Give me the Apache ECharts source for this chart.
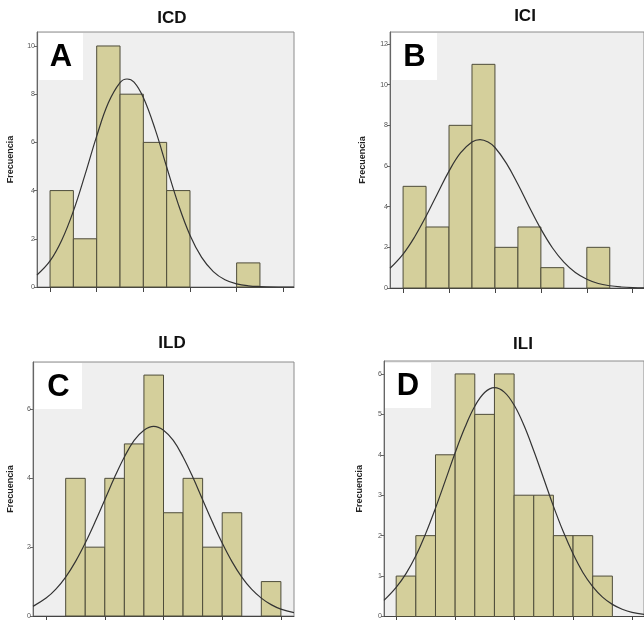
<!DOCTYPE html>
<html>
<head>
<meta charset="utf-8">
<script src="https://cdn.jsdelivr.net/npm/echarts@6/dist/echarts.min.js"></script>
<style>
  html, body { margin: 0; padding: 0; background: #fff; }
  #main { width: 644px; height: 620px; }
</style>
</head>
<body>
<div id="main"></div>
<script>
// frecuencias por intervalo (intervalo i va de i a i+1)
var icdCounts = [4, 2, 10, 8, 6, 4, 0, 0, 1];
var iciCounts = [5, 3, 8, 11, 2, 3, 1, 0, 2];
var ildCounts = [4, 2, 4, 5, 7, 3, 4, 2, 3, 0, 1];
var iliCounts = [1, 2, 4, 6, 5, 6, 3, 3, 2, 2, 1];

// curva normal [x, frecuencia]
var icdCurve = [[-0.56, 0.5], [0, 1.08], [0.5, 1.94], [1, 3.15], [1.5, 4.66], [2, 6.26], [2.5, 7.64],
  [3, 8.48], [3.3, 8.63], [3.6, 8.5], [4, 7.86], [4.5, 6.56], [5, 4.98], [5.5, 3.43], [6, 2.15], [6.5, 1.23],
  [7, 0.64], [7.5, 0.3], [8, 0.13], [8.5, 0.05], [9, 0.02], [10, 0.0], [10.46, 0.0]];
var iciCurve = [[-0.57, 0.97], [0, 1.67], [0.5, 2.51], [1, 3.53], [1.5, 4.65], [2, 5.75], [2.5, 6.64],
  [3, 7.18], [3.35, 7.3], [3.7, 7.18], [4, 6.91], [4.5, 6.13], [5, 5.1], [5.5, 3.97], [6, 2.9], [6.5, 1.98],
  [7, 1.27], [7.5, 0.76], [8, 0.43], [8.5, 0.22], [9, 0.11], [9.5, 0.05], [10, 0.02], [10.5, 0.01]];
var ildCurve = [[-1.67, 0.28], [-1, 0.52], [-0.5, 0.78], [0, 1.13], [0.5, 1.58], [1, 2.12], [1.5, 2.73],
  [2, 3.38], [2.5, 4.03], [3, 4.62], [3.5, 5.1], [4, 5.4], [4.5, 5.51], [5, 5.4], [5.5, 5.1], [6, 4.62],
  [6.5, 4.03], [7, 3.38], [7.5, 2.73], [8, 2.12], [8.5, 1.58], [9, 1.13], [9.5, 0.78], [10, 0.52],
  [10.5, 0.33], [11, 0.2], [11.67, 0.1]];
var iliCurve = [[-0.62, 0.4], [0, 0.72], [0.5, 1.06], [1, 1.5], [1.5, 2.05], [2, 2.68], [2.5, 3.36],
  [3, 4.05], [3.5, 4.68], [4, 5.2], [4.5, 5.54], [5, 5.66], [5.5, 5.55], [6, 5.23], [6.5, 4.73],
  [7, 4.1], [7.5, 3.42], [8, 2.73], [8.5, 2.1], [9, 1.55], [9.5, 1.09], [10, 0.74], [10.5, 0.48],
  [11, 0.3], [11.5, 0.18], [12, 0.1], [12.61, 0.05]];

// marcas de los ejes
var icdXTicks = [0, 2, 4, 6, 8, 10];
var iciXTicks = [0, 2, 4, 6, 8, 10];
var ildXTicks = [-1, 2, 5, 8, 11];
var iliXTicks = [0, 3, 6, 9, 12];
var icdYTicks = [0, 2, 4, 6, 8, 10];
var iciYTicks = [0, 2, 4, 6, 8, 10, 12];
var ildYTicks = [0, 2, 4, 6];
var iliYTicks = [0, 1, 2, 3, 4, 5, 6];

var titles = ["ICD", "ICI", "ILD", "ILI"];
var letters = ["A", "B", "C", "D"];

var panels = [
  { counts: icdCounts, curve: icdCurve, xTicks: icdXTicks, yTicks: icdYTicks,
    grid: { left: 37, top: 32, width: 257, height: 255 }, xMin: -0.56, xMax: 10.46, yMax: 10.58, nameGap: 22,
    title: [172, 18], box: [39, 33, 44, 47] },
  { counts: iciCounts, curve: iciCurve, xTicks: iciXTicks, yTicks: iciYTicks,
    grid: { left: 390, top: 32, width: 258, height: 256 }, xMin: -0.57, xMax: 10.49, yMax: 12.59, nameGap: 23,
    title: [525, 16], box: [392, 33, 45, 47] },
  { counts: ildCounts, curve: ildCurve, xTicks: ildXTicks, yTicks: ildYTicks,
    grid: { left: 33, top: 362, width: 261, height: 254 }, xMin: -1.67, xMax: 11.67, yMax: 7.38, nameGap: 18,
    title: [172, 343], box: [35, 363, 47, 46] },
  { counts: iliCounts, curve: iliCurve, xTicks: iliXTicks, yTicks: iliYTicks,
    grid: { left: 384, top: 361, width: 262, height: 256 }, xMin: -0.62, xMax: 12.61, yMax: 6.32, nameGap: 20,
    title: [523, 344], box: [385, 363, 46, 45] }
];

function renderBar(params, api) {
  var top = api.coord([api.value(0), api.value(2)]);
  var base = api.coord([api.value(1), 0]);
  return {
    type: "rect",
    shape: { x: top[0], y: top[1], width: base[0] - top[0], height: base[1] - top[1] },
    style: { fill: "#d4cf9b", stroke: "#4e4c3a", lineWidth: 1 }
  };
}

var grids = [], xAxes = [], yAxes = [], series = [], graphics = [];

panels.forEach(function (p, i) {
  grids.push({
    left: p.grid.left, top: p.grid.top, width: p.grid.width, height: p.grid.height,
    show: true, backgroundColor: "#efefef", borderColor: "#8c8c8c", borderWidth: 1
  });
  xAxes.push({
    type: "value", gridIndex: i, min: p.xMin, max: p.xMax,
    splitLine: { show: false },
    axisLine: { onZero: false, lineStyle: { color: "#444", width: 1 } },
    axisTick: { show: true, length: 5, lineStyle: { color: "#444" }, customValues: p.xTicks },
    axisLabel: { show: false }
  });
  yAxes.push({
    type: "value", gridIndex: i, min: 0, max: p.yMax,
    name: "Frecuencia", nameLocation: "middle", nameGap: p.nameGap, nameRotate: 90,
    nameTextStyle: { fontFamily: "Liberation Sans", fontWeight: "bold", fontSize: 9, color: "#222" },
    splitLine: { show: false },
    axisLine: { show: true, onZero: false, lineStyle: { color: "#666", width: 1 } },
    axisTick: { show: true, length: 3, lineStyle: { color: "#666" }, customValues: p.yTicks },
    axisLabel: { fontFamily: "Liberation Sans", fontSize: 7, color: "#555", margin: 2, customValues: p.yTicks }
  });
  series.push({
    type: "custom", xAxisIndex: i, yAxisIndex: i,
    renderItem: renderBar,
    encode: { x: [0, 1], y: 2 },
    data: p.counts.map(function (c, k) { return [k, k + 1, c]; }).filter(function (d) { return d[2] > 0; })
  });
  series.push({
    type: "line", xAxisIndex: i, yAxisIndex: i,
    data: p.curve, smooth: 0.4, symbol: "none", z: 3,
    lineStyle: { color: "#333", width: 1.2 }
  });
  graphics.push({
    type: "text", x: p.title[0], y: p.title[1],
    style: { text: titles[i], fill: "#111", font: "bold 17px 'Liberation Sans'", align: "center", verticalAlign: "middle" }
  });
  graphics.push({
    type: "rect", shape: { x: p.box[0], y: p.box[1], width: p.box[2], height: p.box[3] },
    style: { fill: "#fff" }, z: 10
  });
  graphics.push({
    type: "text", x: p.box[0] + p.box[2] / 2, y: p.box[1] + p.box[3] / 2 + 1, z: 11,
    style: { text: letters[i], fill: "#000", font: "bold 31px 'Liberation Sans'", align: "center", verticalAlign: "middle" }
  });
});

var myChart = echarts.init(document.getElementById("main"));
myChart.setOption({
  animation: false,
  grid: grids,
  xAxis: xAxes,
  yAxis: yAxes,
  series: series,
  graphic: graphics
});
</script>
</body>
</html>
